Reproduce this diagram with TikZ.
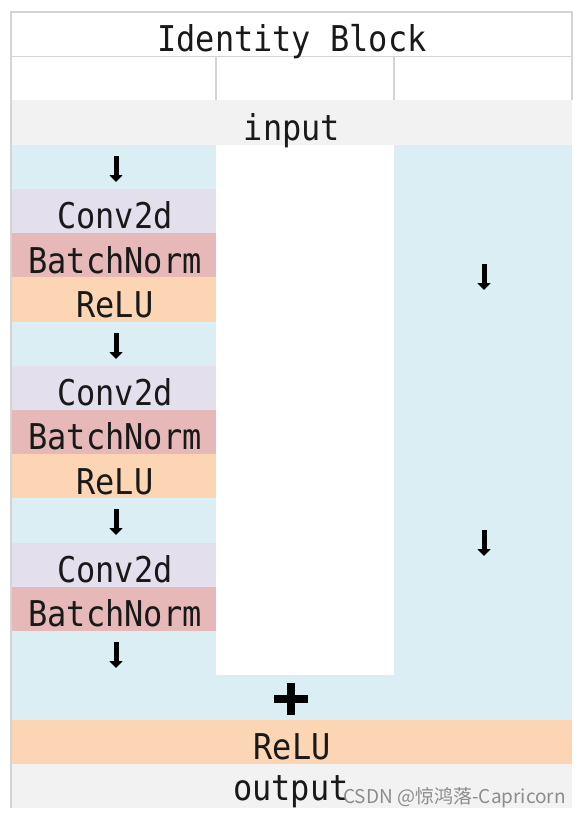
\documentclass[tikz,border=0pt]{standalone}
\usepackage{fontspec}
\setmonofont{DejaVu Sans Mono}
\newfontfamily\cjkfont{Noto Sans CJK SC}
\usetikzlibrary{arrows.meta}
\definecolor{cblue}{HTML}{DAEEF3}
\definecolor{clav}{HTML}{E4DFEC}
\definecolor{cpink}{HTML}{E6B8B7}
\definecolor{cpeach}{HTML}{FCD5B4}
\definecolor{cgray}{HTML}{F2F2F2}
\definecolor{cgrid}{HTML}{D4D4D4}
\newcommand{\celltxt}[1]{\scalebox{0.9}[1]{#1}}
\tikzset{
  lbl/.style={anchor=base, inner sep=0pt, font=\ttfamily\fontsize{35.5}{36}\selectfont, text=black!90},
  downarrow/.style={line width=5pt, -{Triangle[width=13pt,length=7pt]}, black},
  plusbar/.style={line width=7.5pt, black},
  grid/.style={draw=cgrid, line width=1.4pt},
  wm/.style={anchor=base east, inner sep=0pt, font=\cjkfont\fontsize{19}{20}\selectfont, text=black!45}
}
\begin{document}
\begin{tikzpicture}[x=1pt,y=-1pt]
\useasboundingbox (0,0) rectangle (580,816);
\fill[white] (0,0) rectangle (580,816);
% rows: top = 12 + 44.22*i
\def\Rh{44.22}
% backgrounds
\fill[cgray] (11,{12+\Rh*2}) rectangle (572,{12+\Rh*3});
\fill[cblue] (11,{12+\Rh*3}) rectangle (216,{12+\Rh*4});
\fill[clav]  (11,{12+\Rh*4}) rectangle (216,{12+\Rh*5});
\fill[cpink] (11,{12+\Rh*5}) rectangle (216,{12+\Rh*6});
\fill[cpeach](11,{12+\Rh*6}) rectangle (216,{12+\Rh*7});
\fill[cblue] (11,{12+\Rh*7}) rectangle (216,{12+\Rh*8});
\fill[clav]  (11,{12+\Rh*8}) rectangle (216,{12+\Rh*9});
\fill[cpink] (11,{12+\Rh*9}) rectangle (216,{12+\Rh*10});
\fill[cpeach](11,{12+\Rh*10}) rectangle (216,{12+\Rh*11});
\fill[cblue] (11,{12+\Rh*11}) rectangle (216,{12+\Rh*12});
\fill[clav]  (11,{12+\Rh*12}) rectangle (216,{12+\Rh*13});
\fill[cpink] (11,{12+\Rh*13}) rectangle (216,{12+\Rh*14});
\fill[cblue] (11,{12+\Rh*14}) rectangle (216,{12+\Rh*15});
\fill[cblue] (394,{12+\Rh*3}) rectangle (572,{12+\Rh*15});
\fill[cblue] (11,{12+\Rh*15}) rectangle (572,{12+\Rh*16});
\fill[cpeach](11,{12+\Rh*16}) rectangle (572,{12+\Rh*17});
\fill[cgray] (11,{12+\Rh*17}) rectangle (572,808);
% grid lines
\draw[grid] (11,808) -- (11,12) -- (572,12) -- (572,{12+\Rh*2});
\draw[grid] (11,{12+\Rh}) -- (572,{12+\Rh});
\draw[grid] (216,{12+\Rh}) -- (216,{12+\Rh*2});
\draw[grid] (394,{12+\Rh}) -- (394,{12+\Rh*2});
% labels (baseline = row top + 40)
\node[lbl] (title) at (292,{12+40}) {\celltxt{Identity Block}};
\node[lbl] (input) at (292,{12+\Rh*2+40}) {\celltxt{input}};
\node[lbl] (conv1) at (115,{12+\Rh*4+40}) {\celltxt{Conv2d}};
\node[lbl] (bn1) at (115,{12+\Rh*5+40}) {\celltxt{BatchNorm}};
\node[lbl] (relu1) at (115,{12+\Rh*6+40}) {\celltxt{ReLU}};
\node[lbl] (conv2) at (115,{12+\Rh*8+40}) {\celltxt{Conv2d}};
\node[lbl] (bn2) at (115,{12+\Rh*9+40}) {\celltxt{BatchNorm}};
\node[lbl] (relu2) at (115,{12+\Rh*10+40}) {\celltxt{ReLU}};
\node[lbl] (conv3) at (115,{12+\Rh*12+40}) {\celltxt{Conv2d}};
\node[lbl] (bn3) at (115,{12+\Rh*13+40}) {\celltxt{BatchNorm}};
\node[lbl] (relu3) at (292,{12+\Rh*16+40}) {\celltxt{ReLU}};
\node[lbl] (output) at (291,{12+\Rh*17+37}) {\celltxt{output}};
% arrow glyphs (pointing down)
\foreach \n/\x/\y in {a1/116/169, a2/116/346, a3/116/522, a4/116/655, s1/484/277, s2/484/543}{
  \coordinate (\n) at (\x,\y);
  \draw[downarrow] ([yshift=13pt]\n) -- ([yshift=-13pt]\n);
}
% plus
\coordinate (plus) at (291,699);
\draw[plusbar] ([xshift=-17pt]plus) -- ([xshift=17pt]plus);
\draw[plusbar] ([yshift=-16pt]plus) -- ([yshift=16pt]plus);
% watermark
\node[wm] (wmark) at (566,803) {CSDN @惊鸿落-Capricorn};
\end{tikzpicture}
\end{document}
